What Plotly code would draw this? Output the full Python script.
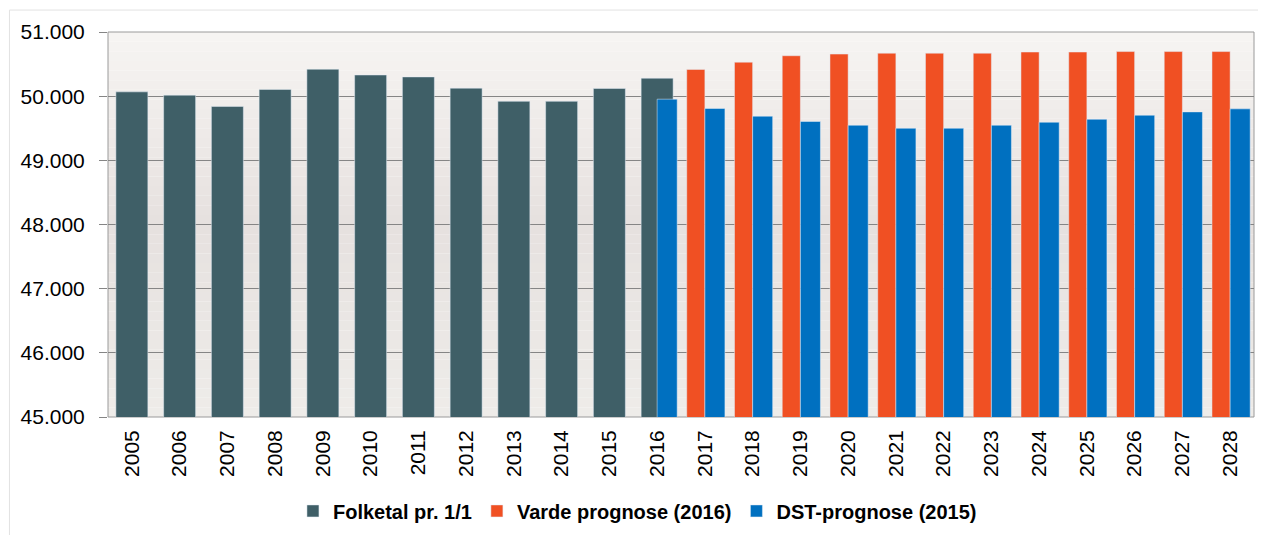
import plotly.graph_objects as go

# data
years_folketal = list(range(2005, 2017))
folketal = [50067, 50016, 49840, 50105, 50420, 50330, 50300, 50125, 49920, 49920, 50120, 50280]

years_varde = list(range(2017, 2029))
varde = [50417, 50530, 50630, 50656, 50670, 50670, 50670, 50688, 50688, 50695, 50695, 50695]

years_dst = list(range(2016, 2029))
dst = [49953, 49808, 49688, 49605, 49547, 49500, 49500, 49547, 49594, 49640, 49703, 49755, 49802]

tick_years = list(range(2005, 2029))

fig = go.Figure()
fig.add_bar(x=years_folketal, y=folketal, name="Folketal pr. 1/1",
            marker_color="#3f5f67", width=0.67, offset=-0.335)
fig.add_bar(x=years_varde, y=varde, name="Varde prognose (2016)",
            marker_color="#f05023", width=0.38, offset=-0.38)
fig.add_bar(x=years_dst, y=dst, name="DST-prognose (2015)",
            marker_color="#0070c0", width=0.42, offset=0)

# plot area gradient (light top -> pinkish grey middle -> light bottom)
def mix(c1, c2, t):
    return "rgb(%d,%d,%d)" % tuple(round(a + (b - a) * t) for a, b in zip(c1, c2))

top_c, mid_c, bot_c = (246, 244, 242), (230, 225, 223), (238, 236, 233)
n = 40
shapes = []
for i in range(n):
    t = i / (n - 1)
    c = mix(top_c, mid_c, t * 2) if t < 0.5 else mix(mid_c, bot_c, (t - 0.5) * 2)
    shapes.append(dict(type="rect", xref="x domain", yref="y domain",
                       x0=0, x1=1, y0=1 - (i + 1) / n, y1=1 - i / n,
                       fillcolor=c, line_width=0, layer="below"))
# plot frame
shapes.append(dict(type="rect", xref="x domain", yref="y domain", x0=0, x1=1, y0=0, y1=1,
                   line=dict(color="#9a9a9a", width=1), layer="below"))
# outer chart border
shapes.append(dict(type="rect", xref="paper", yref="paper", x0=-0.086, x1=1.03, y0=-0.32, y1=1.057,
                   line=dict(color="#e2e2e2", width=1), layer="below"))

# page body has an 8px margin, so the figure is a bit smaller than the window
fig.update_layout(
    barmode="overlay",
    width=1258, height=527,
    margin=dict(l=100, r=12, t=24, b=118, autoexpand=False),
    paper_bgcolor="white",
    plot_bgcolor="rgba(0,0,0,0)",
    separators=",.",
    font=dict(family="Liberation Sans, Arial", color="black"),
    shapes=shapes,
    showlegend=True,
    legend=dict(orientation="h", x=0.462, xanchor="center", y=-0.244, yanchor="middle",
                font=dict(size=20, family="Liberation Sans, Arial", weight="bold"),
                itemwidth=30, tracegroupgap=0, bgcolor="rgba(0,0,0,0)"),
)
fig.update_xaxes(range=[2004.5, 2028.5], tickmode="array", tickvals=tick_years,
                 ticktext=[str(y) for y in tick_years], tickangle=-90,
                 tickfont=dict(size=21), showgrid=False, ticks="", showline=False,
                 ticklabelstandoff=8, automargin=False)
fig.update_yaxes(range=[45000, 51000], dtick=1000, tickformat=",d",
                 tickfont=dict(size=21), showgrid=True, gridcolor="#858585", gridwidth=1,
                 ticks="outside", ticklen=8, tickcolor="#858585", zeroline=False,
                 showline=False, ticklabelstandoff=10, automargin=False)

fig.write_html("out.html")
